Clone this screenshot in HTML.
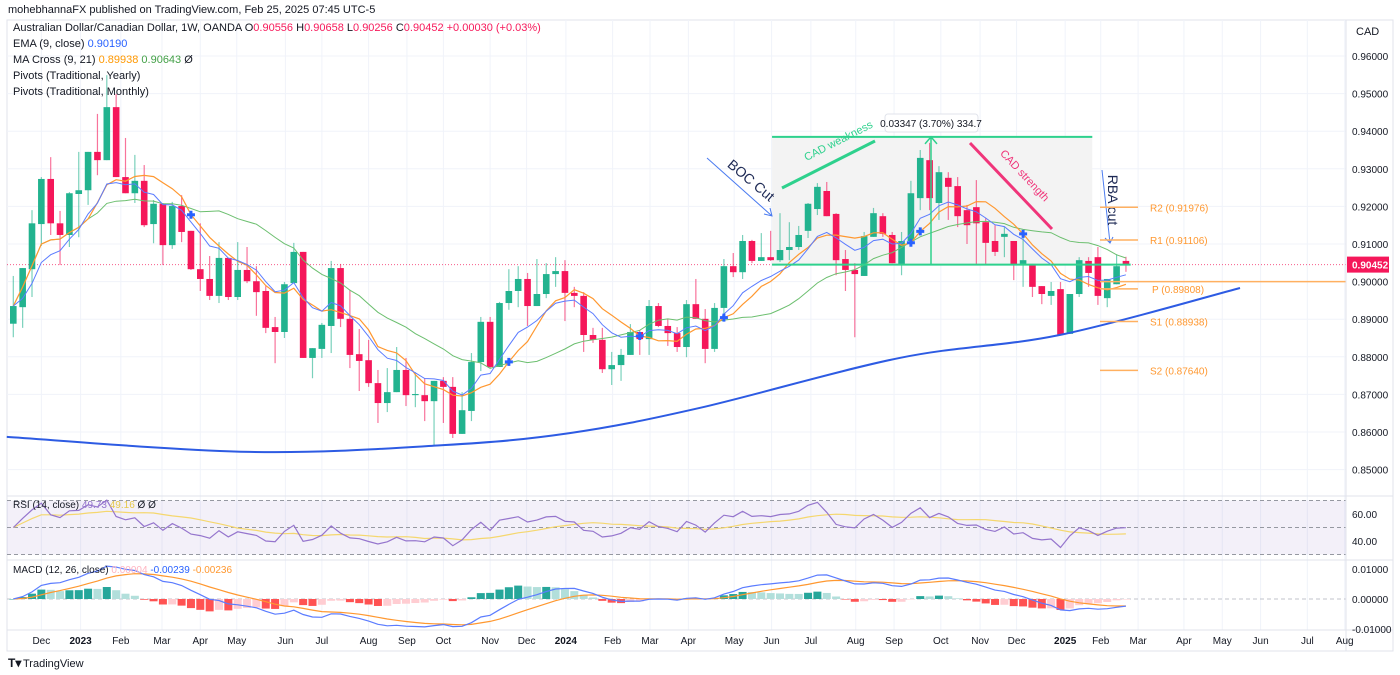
<!DOCTYPE html>
<html><head><meta charset="utf-8">
<style>
html,body{margin:0;padding:0;background:#fff;}
svg{display:block;font-family:"Liberation Sans",sans-serif;}
</style></head>
<body>
<svg id="chart" width="1400" height="675" viewBox="0 0 1400 675" xmlns="http://www.w3.org/2000/svg">
<defs>
<clipPath id="clipMain"><rect x="7" y="20" width="1339" height="476"/></clipPath>
<clipPath id="clipRsi"><rect x="7" y="497" width="1339" height="62"/></clipPath>
<clipPath id="clipMacd"><rect x="7" y="561" width="1339" height="69"/></clipPath>
</defs>
<text x="8" y="13" font-size="11" fill="#131722">mohebhannaFX published on TradingView.com, Feb 25, 2025 07:45 UTC-5</text>
<rect x="7" y="20" width="1386" height="631" fill="none" stroke="#e0e3eb"/>
<g id="grid"></g>
<g id="drawBack"></g>
<g id="candles"></g>
<g id="inds" clip-path="url(#clipMain)"></g>
<g id="drawFront"></g>
<g id="panes"></g>
<g id="axes"></g>
<g font-size="11" fill="#131722">
<text x="13" y="31">Australian Dollar/Canadian Dollar, 1W, OANDA <tspan fill="#131722">O</tspan><tspan fill="#f7195a">0.90556</tspan> <tspan>H</tspan><tspan fill="#f7195a">0.90658</tspan> <tspan>L</tspan><tspan fill="#f7195a">0.90256</tspan> <tspan>C</tspan><tspan fill="#f7195a">0.90452</tspan> <tspan fill="#f7195a">+0.00030 (+0.03%)</tspan></text>
<text x="13" y="47">EMA (9, close) <tspan fill="#2962ff">0.90190</tspan></text>
<text x="13" y="63">MA Cross (9, 21) <tspan fill="#ff9800">0.89938</tspan> <tspan fill="#43a047">0.90643</tspan> Ø</text>
<text x="13" y="79">Pivots (Traditional, Yearly)</text>
<text x="13" y="95">Pivots (Traditional, Monthly)</text>
<text x="1356" y="35">CAD</text>
</g>
<g>
<text x="8" y="667" font-size="12" font-weight="bold" fill="#131722">T▾</text>
<text x="23" y="667" font-size="11" fill="#131722">TradingView</text>
</g>
</svg>
<script>
const opens=[.8888,.8932,.9033,.9153,.9273,.9155,.9124,.9233,.9243,.9345,.9323,.9464,.9278,.9235,.9268,.9153,.9207,.9097,.9201,.9135,.9033,.9007,.8962,.9063,.8959,.9031,.9001,.8975,.8879,.8866,.8996,.9079,.8797,.8821,.8882,.9036,.8901,.8807,.8791,.8730,.8677,.8706,.8765,.8698,.8698,.8682,.8736,.8720,.8595,.8656,.8786,.8893,.8773,.8943,.8975,.9007,.8935,.8967,.9020,.9028,.8970,.8962,.8858,.8845,.8767,.8778,.8805,.8866,.8847,.8935,.8882,.8863,.8826,.8940,.8901,.8821,.8930,.9041,.9025,.9108,.9055,.9065,.9057,.9084,.9092,.9135,.9193,.9241,.9180,.9060,.9031,.9015,.9119,.9174,.9124,.9047,.9108,.9222,.9323,.9209,.9276,.9254,.9190,.9198,.9158,.9108,.9119,.9108,.9047,.9047,.8988,.8962,.8980,.8861,.8967,.9055,.9065,.8956,.8993,.9055];
const closes=[.8935,.9036,.9155,.9273,.9155,.9124,.9235,.9243,.9345,.9323,.9464,.9278,.9235,.9268,.9150,.9207,.9097,.9201,.9132,.9033,.9007,.8962,.9063,.8959,.9031,.9001,.8972,.8877,.8866,.8993,.9079,.8797,.8823,.8885,.9036,.8901,.8805,.8789,.8730,.8677,.8706,.8765,.8698,.8701,.8682,.8736,.8720,.8595,.8658,.8786,.8893,.8773,.8943,.8975,.9007,.8935,.8967,.9020,.9028,.8970,.8962,.8858,.8845,.8767,.8778,.8805,.8866,.8847,.8935,.8882,.8863,.8826,.8940,.8901,.8821,.8930,.9041,.9025,.9108,.9055,.9065,.9057,.9084,.9092,.9124,.9207,.9252,.9174,.9057,.9031,.9020,.9121,.9182,.9127,.9049,.9108,.9235,.9329,.9222,.9291,.9252,.9174,.9150,.9155,.9103,.9079,.9127,.9044,.9057,.8986,.8967,.8975,.8858,.8967,.9057,.9023,.8962,.9007,.9041,.90452];
const highs=[.9015,.9036,.9190,.9278,.9331,.9188,.9238,.9345,.9345,.9446,.9549,.9499,.9382,.9337,.9310,.9217,.9209,.9212,.9230,.9135,.9155,.9068,.9105,.9063,.9105,.9092,.9041,.8988,.8906,.8999,.9103,.9079,.8823,.8890,.9055,.9047,.8978,.8874,.8845,.8765,.8770,.8826,.8797,.8759,.8743,.8736,.8746,.8746,.8706,.8810,.8906,.8906,.8946,.9033,.9041,.9023,.9060,.9049,.9065,.9057,.8986,.8972,.8877,.8877,.8813,.8821,.8887,.8871,.8951,.8943,.8901,.8879,.8951,.9007,.8927,.8943,.9060,.9076,.9124,.9111,.9129,.9135,.9182,.9158,.9148,.9209,.9262,.9265,.9182,.9084,.9049,.9132,.9196,.9182,.9132,.9132,.9268,.9350,.9369,.9307,.9291,.9278,.9204,.9270,.9169,.9150,.9145,.9108,.9132,.9047,.8988,.8999,.8999,.8967,.9065,.9065,.9092,.9007,.9073,.9066];
const lows=[.8852,.8877,.8959,.9095,.9124,.9044,.9092,.9118,.9204,.9283,.9323,.9278,.9235,.9209,.9145,.9102,.9044,.9087,.9105,.9031,.8975,.8951,.8943,.8951,.8951,.8996,.8909,.8863,.8783,.8850,.8996,.8797,.8743,.8797,.8810,.8879,.8770,.8709,.8720,.8624,.8653,.8706,.8669,.8666,.8629,.8565,.8624,.8584,.8595,.8629,.8762,.8770,.8773,.8925,.8932,.8882,.8935,.8956,.8986,.8895,.8932,.8813,.8837,.8757,.8725,.8736,.8805,.8805,.8805,.8879,.8829,.8813,.8799,.8901,.8783,.8813,.8906,.9012,.9007,.9049,.9055,.9055,.9052,.9057,.9084,.9116,.9177,.9174,.9017,.8975,.8852,.9015,.9119,.9119,.9049,.9017,.9102,.9190,.9190,.9164,.9164,.9145,.9100,.9044,.9044,.9068,.9065,.9004,.8986,.8959,.8940,.8938,.8858,.8861,.8959,.8986,.8938,.8932,.8993,.9026];
const priceTicks=[0.96,0.95,0.94,0.93,0.92,0.91,0.90,0.89,0.88,0.87,0.86,0.85];
const timeLabels=["Dec","2023","Feb","Mar","Apr","May","Jun","Jul","Aug","Sep","Oct","Nov","Dec","2024","Feb","Mar","Apr","May","Jun","Jul","Aug","Sep","Oct","Nov","Dec","2025","Feb","Mar","Apr","May","Jun","Jul","Aug"];
const timeLabelWeeks=[3,7.2,11.5,15.9,20,23.9,29.1,33,38,42.1,46,51,54.9,59.1,64.1,68.1,72.2,77.1,81.1,85.3,90.1,94.2,99.2,103.4,107.3,112.5,116.3,120.3,125.2,129.3,133.4,138.4,142.4];
const boldLabels=["2023","2024","2025"];
const pivotNames=["R2","R1","P","S1","S2"];
const pivotValues=[0.91976,0.91106,0.89808,0.88938,0.87640];
const yearlyPivot=0.90000;
const trendWeeks=[-0.7,25.3,46,59.5,73.4,94.8,111.9,131.2];
const trendPrices=[0.8587,0.8547,0.8565,0.8597,0.8664,0.8797,0.8858,0.8983];
const boxWeeks=[81.15,115.4];
const boxPrices=[0.9385,0.9045];
const rsiTicks=[60,40];
const macdTicks=[0.01,0,-0.01];

const NS="http://www.w3.org/2000/svg";
const X0=13.3, DX=9.35;
const xi=i=>X0+DX*i;
const yp=p=>56+(0.96-p)*3760;
const yr=v=>527.5-(v-50)*1.35;
const ym=v=>599-v*3000;
function mk(parent,tag,attrs){const e=document.createElementNS(NS,tag);for(const k in attrs)e.setAttribute(k,attrs[k]);parent.appendChild(e);return e;}
const G=id=>document.getElementById(id);
const GREEN="#22b38f", RED="#f5175a";

const grid=G('grid');
priceTicks.forEach(p=>{const l=mk(grid,'line',{x1:7,x2:1346,y1:yp(p),y2:yp(p),stroke:'#f0f3fa'});

});
timeLabelWeeks.forEach(w=>{const l=mk(grid,'line',{x1:xi(w),x2:xi(w),y1:20,y2:630,stroke:'#f0f3fa'});

});

const db=G('drawBack');
const box=mk(db,'rect',{x:xi(boxWeeks[0]),y:yp(boxPrices[0]),width:xi(boxWeeks[1])-xi(boxWeeks[0]),height:yp(boxPrices[1])-yp(boxPrices[0]),fill:'#f3f3f3'});


const cp=mk(db,'line',{x1:7,x2:1346,y1:yp(closes[closes.length-1]),y2:yp(closes[closes.length-1]),stroke:'#f5175a','stroke-dasharray':'1,2','stroke-width':1,opacity:0.7});



const cg=G('candles');
closes.forEach((c,i)=>{const o=opens[i],up=c>=o,col=up?GREEN:RED,x=xi(i);
const w=mk(cg,'line',{x1:x,x2:x,y1:yp(highs[i]),y2:yp(lows[i]),stroke:col,'stroke-width':1.2,opacity:0.6});


const top=yp(Math.max(o,c)),bot=yp(Math.min(o,c));
const b=mk(cg,'rect',{x:x-3.3,y:top,width:6.6,height:Math.max(1,bot-top),fill:col});

});

function ema(arr,n){const k=2/(n+1);let out=[],e=arr[0];arr.forEach((v,i)=>{e=i?v*k+e*(1-k):v;out.push(e);});return out;}
function sma(arr,n){return arr.map((v,i)=>{const s=arr.slice(Math.max(0,i-n+1),i+1);return s.reduce((a,b)=>a+b,0)/s.length;});}
const ema9=ema(closes,9), sma9=sma(closes,9), sma21=sma(closes,21);
const ig=G('inds');
function line(parent,vals,fx,fy,color,w,name){const d=vals.map((v,i)=>(i?'L':'M')+fx(i).toFixed(1)+','+fy(v).toFixed(1)).join('');
const p=mk(parent,'path',{d:d,fill:'none',stroke:color,'stroke-width':w});

return p;}
line(ig,sma21,xi,yp,'#6cbf6f',1,'sma21-line');
line(ig,sma9,xi,yp,'#ff9830',1.2,'sma9-line');
line(ig,ema9,xi,yp,'#5b7cff',1,'ema9-line');
for(let i=1;i<closes.length;i++){const a=sma9[i-1]-sma21[i-1],b=sma9[i]-sma21[i];
if(a*b<0){const x=xi(i),y=yp(sma9[i]);
const cr=mk(ig,'path',{d:`M${x-4},${y}h8M${x},${y-4}v8`,stroke:'#2962ff','stroke-width':3});

}}

const df=G('drawFront');
(function(){const P=trendWeeks.map((w,i)=>[xi(w),yp(trendPrices[i])]);let d='M'+P[0][0]+','+P[0][1];
for(let i=0;i<P.length-1;i++){const p0=P[Math.max(0,i-1)],p1=P[i],p2=P[i+1],p3=P[Math.min(P.length-1,i+2)];
d+=`C${p1[0]+(p2[0]-p0[0])/6},${p1[1]+(p2[1]-p0[1])/6} ${p2[0]-(p3[0]-p1[0])/6},${p2[1]-(p3[1]-p1[1])/6} ${p2[0]},${p2[1]}`;}
const t=mk(df,'path',{d:d,fill:'none',stroke:'#2d5be3','stroke-width':2});

})();
const bx1=xi(boxWeeks[0]),bx2=xi(boxWeeks[1]),by1=yp(boxPrices[0]),by2=yp(boxPrices[1]);
const tl=mk(df,'line',{x1:bx1,x2:bx2,y1:by1,y2:by1,stroke:'#2ed18d','stroke-width':2});


const bl=mk(df,'line',{x1:bx1,x2:xi(119.5),y1:by2,y2:by2,stroke:'#2ed18d','stroke-width':2});


const vx=931;
const vl=mk(df,'path',{d:`M${vx},${by2}V${by1}M${vx-6},${by1+7}L${vx},${by1}L${vx+6},${by1+7}`,fill:'none',stroke:'#2ed18d','stroke-width':1.5});


const mb=mk(df,'rect',{x:885,y:114,width:93,height:18,rx:3,fill:'#fff',stroke:'#e0e3eb'});


const mt=mk(df,'text',{x:931,y:127,'font-size':10,'text-anchor':'middle',fill:'#131722'});mt.textContent='0.03347 (3.70%) 334.7';


const cw=mk(df,'line',{x1:782,y1:188,x2:875,y2:141,stroke:'#2ed18d','stroke-width':3});


const cwt=mk(df,'text',{x:0,y:0,'font-size':11,fill:'#2ed18d','text-anchor':'middle',transform:'translate(840,144) rotate(-27)'});cwt.textContent='CAD weakness';


const cs=mk(df,'line',{x1:970,y1:143,x2:1052,y2:229,stroke:'#f0357a','stroke-width':3});


const cst=mk(df,'text',{x:0,y:0,'font-size':11,fill:'#f0357a','text-anchor':'middle',transform:'translate(1022,178) rotate(47)'});cst.textContent='CAD strength';


const ba=mk(df,'path',{d:'M707,158L772,216M764,214L772,216L770,208',fill:'none',stroke:'#4a7bf0','stroke-width':1});


const bt=mk(df,'text',{x:0,y:0,'font-size':14,fill:'#1e2a55','text-anchor':'middle',transform:'translate(748,184) rotate(40)'});bt.textContent='BOC Cut';


const ra=mk(df,'path',{d:'M1102,170L1110,243M1105,238L1110,243L1113,237',fill:'none',stroke:'#4a7bf0','stroke-width':1});


const rt=mk(df,'text',{x:0,y:0,'font-size':14,fill:'#1e2a55','text-anchor':'middle',transform:'translate(1108,200) rotate(90)'});rt.textContent='RBA cut';


const yl=mk(df,'line',{x1:1100,x2:1346,y1:yp(yearlyPivot),y2:yp(yearlyPivot),stroke:'#ffb060','stroke-width':1.5});


pivotValues.forEach((v,k)=>{const l=mk(df,'line',{x1:1100,x2:1138,y1:yp(v),y2:yp(v),stroke:'#ffb060','stroke-width':1.5});


const t=mk(df,'text',{x:pivotNames[k]==='P'?1152:1150,y:yp(v)+4,'font-size':10,fill:'#ff9830'});t.textContent=pivotNames[k]+' ('+v.toFixed(5)+')';

});

const pg=G('panes');
[496,560,630].forEach(y=>{const l=mk(pg,'line',{x1:7,x2:1393,y1:y,y2:y,stroke:'#e0e3eb'});

});
const band=mk(pg,'rect',{x:7,y:yr(70),width:1339,height:yr(30)-yr(70),fill:'#7e57c2',opacity:0.09});


[70,50,30].forEach(v=>{const l=mk(pg,'line',{x1:7,x2:1346,y1:yr(v),y2:yr(v),stroke:'#9598a1','stroke-dasharray':'4,3','stroke-width':1});

});
let rsi=[],ag=0.0025,al=0.0025;
closes.forEach((c,i)=>{if(i===0){rsi.push(50);return;}const ch=c-closes[i-1],g=Math.max(ch,0),l=Math.max(-ch,0);
ag=(ag*13+g)/14;al=(al*13+l)/14;rsi.push(al===0?100:100-100/(1+ag/al));});
const rsiMa=sma(rsi,14);
const rsiG=mk(pg,'g',{'clip-path':'url(#clipRsi)'});


line(rsiG,rsiMa,xi,yr,'#f5d76e',1.2,'rsi-ma-line');
line(rsiG,rsi,xi,yr,'#9575cd',1.2,'rsi-line');
const e12=ema(closes,12),e26=ema(closes,26),macd=e12.map((v,i)=>v-e26[i]),sig=ema(macd,9),hist=macd.map((v,i)=>v-sig[i]);
const macdG=mk(pg,'g',{'clip-path':'url(#clipMacd)'});


const z=mk(macdG,'line',{x1:7,x2:1346,y1:ym(0),y2:ym(0),stroke:'#c0c3cb','stroke-dasharray':'4,3'});


hist.forEach((h,i)=>{const prev=i?hist[i-1]:0;const col=h>=0?(h>=prev?'#26a69a':'#b2dfdb'):(h<prev?'#ff5252':'#ffcdd2');
const y1=Math.min(ym(h),ym(0)),y2=Math.max(ym(h),ym(0));
const r=mk(macdG,'rect',{x:xi(i)-4,y:y1,width:8,height:Math.max(0.5,y2-y1),fill:col});

});
line(macdG,sig,xi,ym,'#ff9830',1.2,'macd-signal-line');
line(macdG,macd,xi,ym,'#5b7cff',1.2,'macd-line');
const rl=mk(pg,'text',{x:13,y:508,'font-size':10,fill:'#131722'});rl.innerHTML='RSI (14, close) <tspan fill="#9575cd">49.73</tspan> <tspan fill="#e6c84a">49.16</tspan> Ø Ø';


const ml=mk(pg,'text',{x:13,y:573,'font-size':10,fill:'#131722'});ml.innerHTML='MACD (12, 26, close) <tspan fill="#ffb3c0">0.00004</tspan> <tspan fill="#2962ff">-0.00239</tspan> <tspan fill="#ff9830">-0.00236</tspan>';



const ax=G('axes');
const sep=mk(ax,'line',{x1:1346,x2:1346,y1:20,y2:651,stroke:'#e0e3eb'});


priceTicks.forEach(p=>{const t=mk(ax,'text',{x:1352,y:yp(p)+4,'font-size':10,fill:'#131722'});t.textContent=p.toFixed(5);

});
const last=closes[closes.length-1];
const pb=mk(ax,'rect',{x:1347,y:yp(last)-8,width:42,height:16,fill:'#f5175a'});


const pt=mk(ax,'text',{x:1352,y:yp(last)+4,'font-size':10,fill:'#fff','font-weight':'bold'});pt.textContent=last.toFixed(5);


rsiTicks.forEach(v=>{const t=mk(ax,'text',{x:1352,y:yr(v)+4,'font-size':10,fill:'#131722'});t.textContent=v.toFixed(2);

});
macdTicks.forEach(v=>{const t=mk(ax,'text',{x:1352,y:ym(v)+4,'font-size':10,fill:'#131722'});t.textContent=v.toFixed(5);

});
timeLabels.forEach((s,k)=>{const t=mk(ax,'text',{x:xi(timeLabelWeeks[k]),y:644,'font-size':10,'text-anchor':'middle',fill:'#131722','font-weight':boldLabels.includes(s)?'bold':'normal'});t.textContent=s;

});
</script>
</body></html>
